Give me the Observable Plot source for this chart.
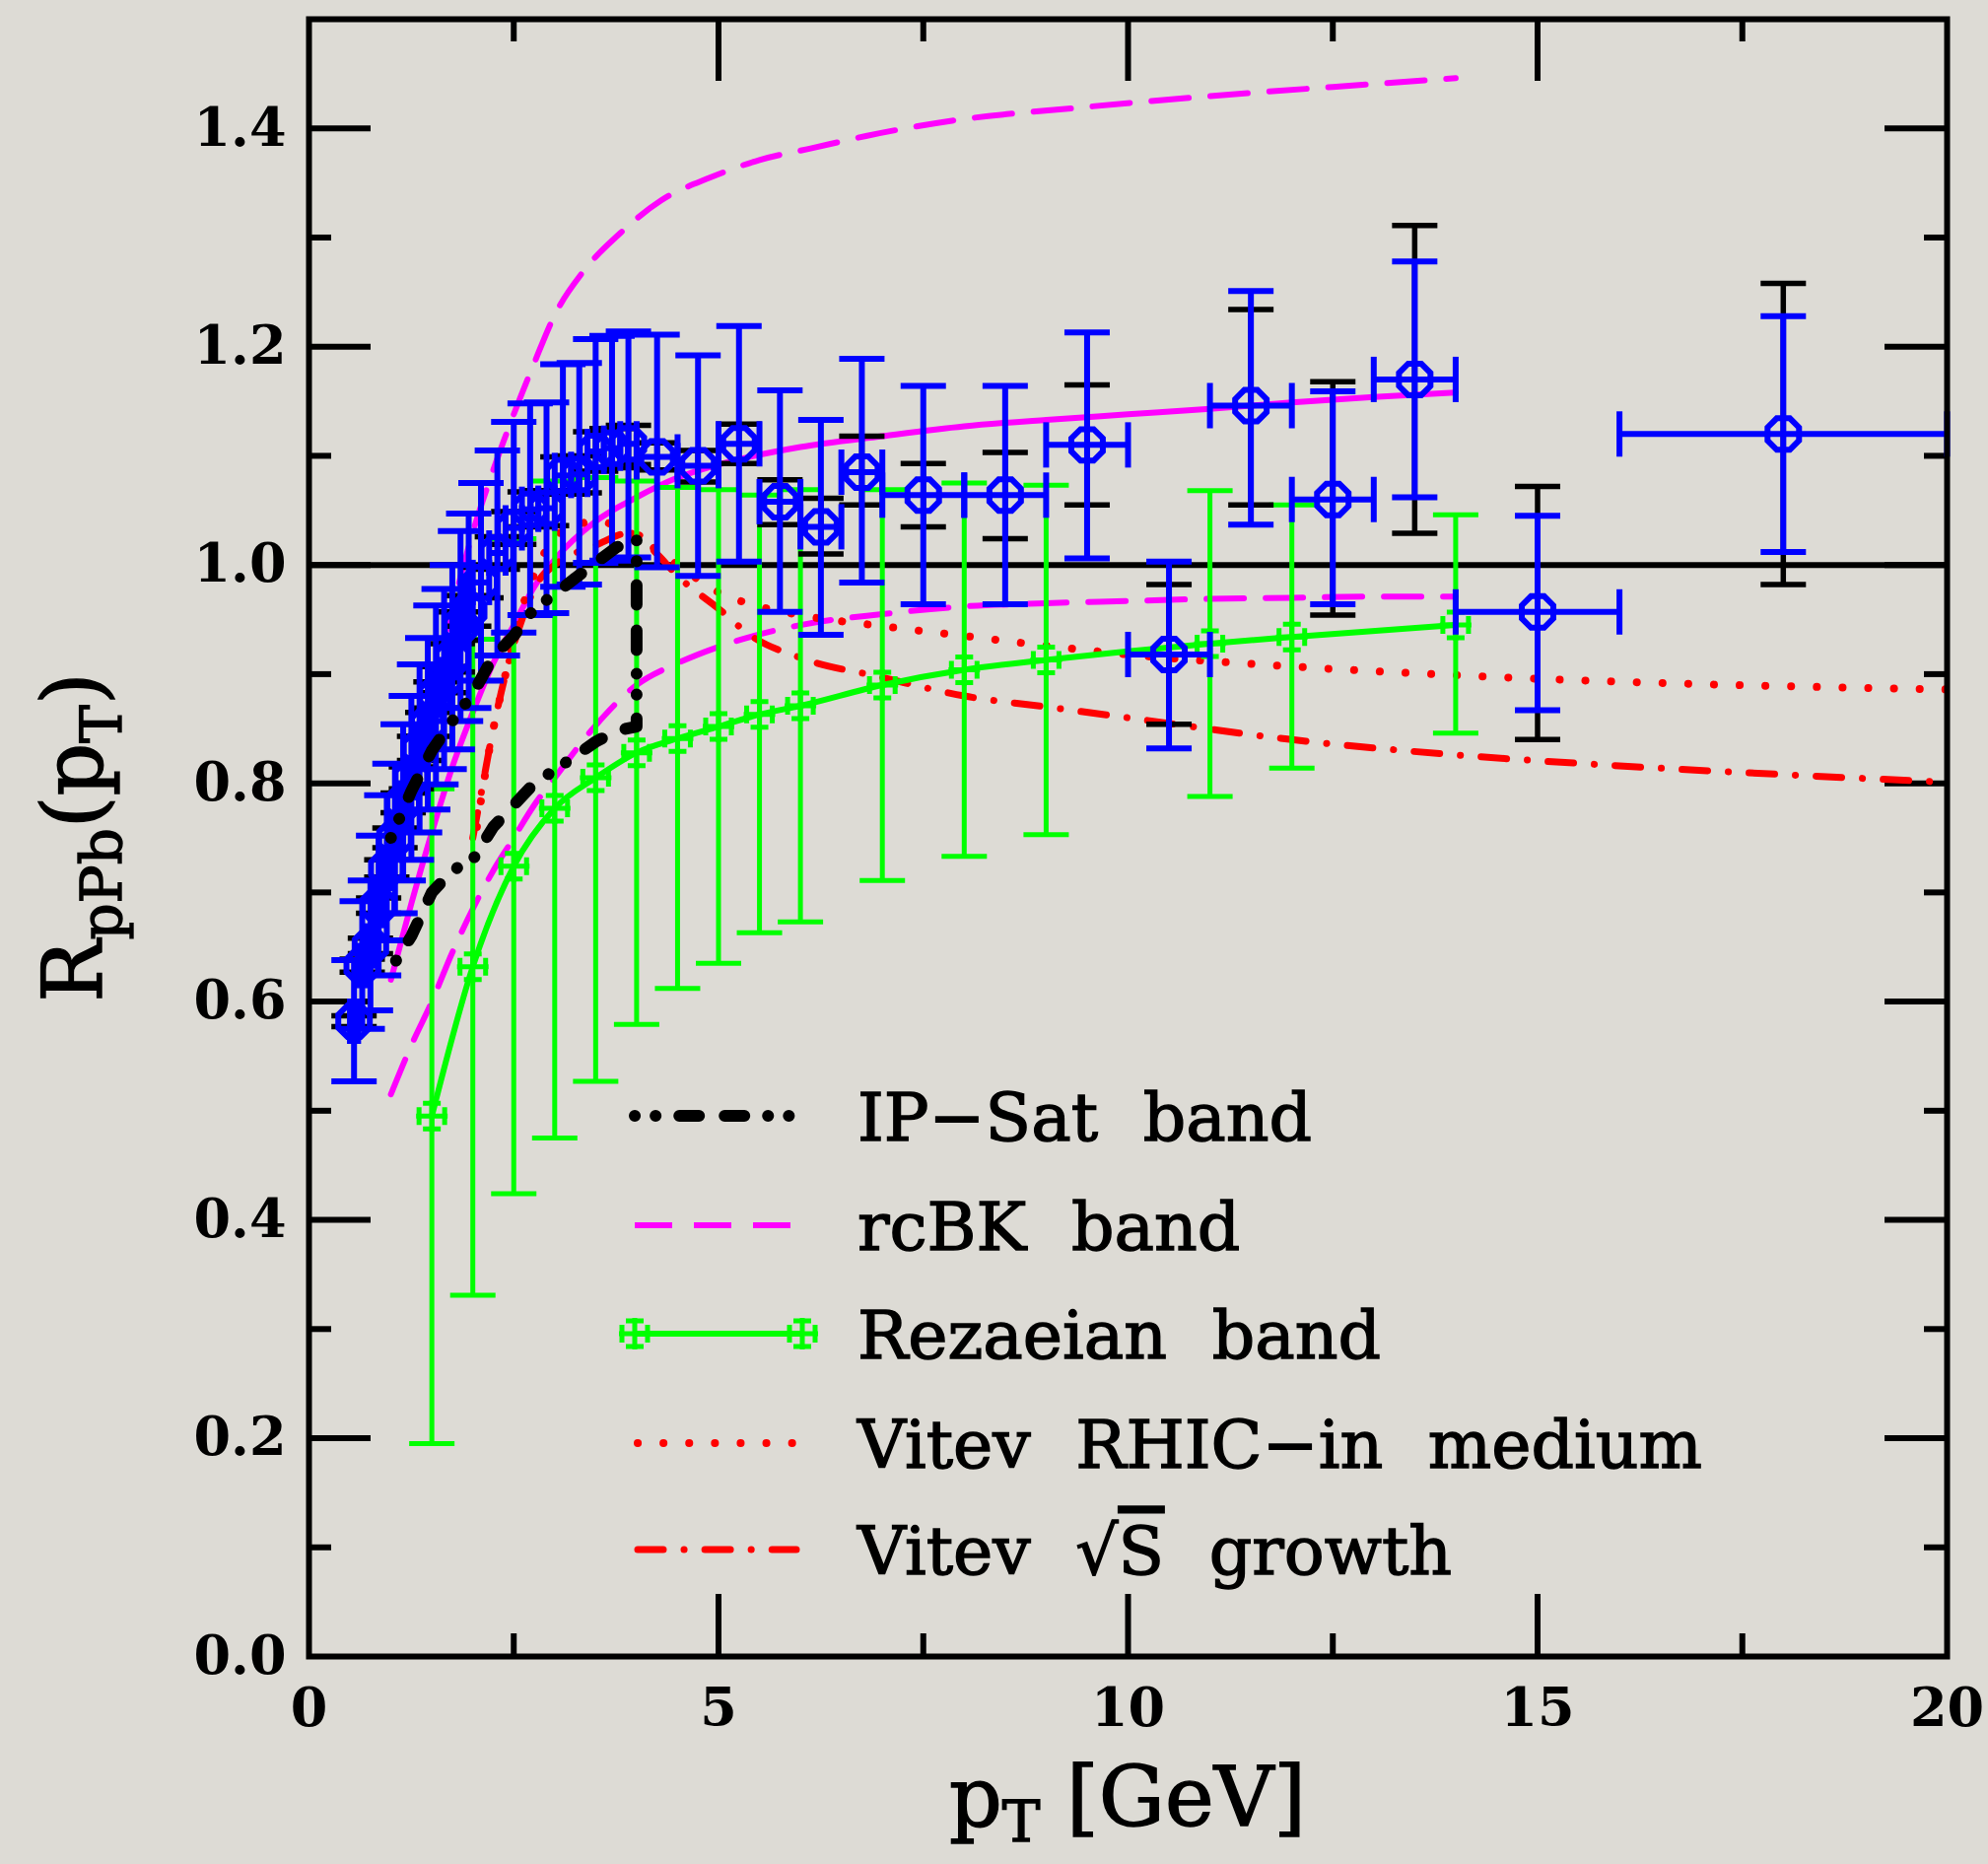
<!DOCTYPE html>
<html>
<head>
<meta charset="utf-8">
<script src="https://cdn.jsdelivr.net/npm/d3@7"></script>
<script src="https://cdn.jsdelivr.net/npm/@observablehq/plot@0.6"></script>
<style>
  html, body { margin: 0; padding: 0; background: #dddbd5; }
  #chart { width: 2017px; height: 1891px; overflow: hidden; }
</style>
</head>
<body>
<div id="chart"></div>
<script>
// ---------------- DATA ----------------
// ALICE p-Pb charged particle R_pPb (blue points)
const alicePt    = [0.55,0.65,0.75,0.85,0.95,1.05,1.15,1.25,1.35,1.45,1.55,1.65,1.75,1.85,1.95,2.1,2.3,2.5,2.7,2.9,3.1,3.3,3.5,3.7,3.9,4.25,4.75,5.25,5.75,6.25,6.75,7.5,8.5,9.5,10.5,11.5,12.5,13.5,15,18];
const aliceR     = [0.582,0.633,0.651,0.688,0.722,0.750,0.782,0.805,0.832,0.854,0.881,0.895,0.915,0.944,0.958,0.984,1.011,1.034,1.051,1.052,1.082,1.083,1.104,1.107,1.111,1.099,1.091,1.111,1.058,1.035,1.085,1.064,1.064,1.110,0.918,1.146,1.060,1.170,0.957,1.120];
const aliceStatLo= [0.527,0.575,0.592,0.624,0.656,0.681,0.711,0.730,0.755,0.776,0.799,0.813,0.831,0.857,0.869,0.894,0.917,0.938,0.954,0.956,0.980,0.982,1.002,1.004,1.007,0.998,0.990,1.003,0.957,0.936,0.984,0.964,0.964,1.006,0.832,1.037,0.964,1.062,0.867,1.012];
const aliceStatHi= [0.638,0.692,0.711,0.752,0.789,0.818,0.854,0.880,0.909,0.933,0.963,0.978,1.000,1.031,1.047,1.075,1.105,1.131,1.148,1.149,1.184,1.185,1.207,1.210,1.214,1.211,1.192,1.219,1.160,1.133,1.189,1.164,1.164,1.213,1.003,1.251,1.159,1.278,1.045,1.228];
const aliceSysLo = [0.577,0.627,0.644,0.681,0.714,0.741,0.773,0.795,0.821,0.843,0.869,0.883,0.902,0.931,0.944,0.970,0.996,1.019,1.035,1.036,1.065,1.066,1.086,1.089,1.092,1.087,1.076,1.093,1.037,1.010,1.055,1.035,1.024,1.055,0.854,1.055,0.954,1.029,0.840,0.982];
const aliceSysHi = [0.587,0.639,0.658,0.695,0.730,0.759,0.791,0.815,0.843,0.865,0.893,0.907,0.928,0.957,0.972,0.998,1.026,1.049,1.067,1.068,1.099,1.100,1.122,1.125,1.128,1.112,1.105,1.129,1.078,1.061,1.118,1.093,1.103,1.165,0.982,1.234,1.168,1.311,1.072,1.258];
const aliceBinLo = [0.5,0.6,0.7,0.8,0.9,1.0,1.1,1.2,1.3,1.4,1.5,1.6,1.7,1.8,1.9,2.0,2.2,2.4,2.6,2.8,3.0,3.2,3.4,3.6,3.8,4.0,4.5,5.0,5.5,6.0,6.5,7,8,9,10,11,12,13,14,16];
const aliceBinHi = [0.6,0.7,0.8,0.9,1.0,1.1,1.2,1.3,1.4,1.5,1.6,1.7,1.8,1.9,2.0,2.2,2.4,2.6,2.8,3.0,3.2,3.4,3.6,3.8,4.0,4.5,5.0,5.5,6.0,6.5,7.0,8,9,10,11,12,13,14,16,20];

// Rezaeian band (green)
const rezPt = [1.5,2,2.5,3,3.5,4,4.5,5,5.5,6,7,8,9,11,12,14];
const rezR  = [0.495,0.632,0.724,0.777,0.805,0.828,0.841,0.852,0.863,0.871,0.890,0.904,0.913,0.928,0.934,0.945];
const rezLo = [0.195,0.331,0.424,0.475,0.527,0.579,0.612,0.635,0.663,0.673,0.711,0.733,0.753,0.788,0.814,0.846];
const rezHi = [0.795,0.932,1.024,1.077,1.080,1.077,1.071,1.069,1.064,1.069,1.069,1.075,1.073,1.068,1.055,1.046];

// rcBK band (magenta): upper dashed, central solid, lower dashed
const rcbkUpPt  = [1.0,1.25,1.5,1.75,2.0,2.25,2.5,2.75,3.0,3.35,3.8,4.3,4.9,5.5,6.15,6.8,7.85,9.4,10.9,12.5,14.0];
const rcbkUpper = [0.72,0.81,0.89,0.96,1.03,1.087,1.138,1.185,1.229,1.269,1.304,1.334,1.355,1.371,1.382,1.393,1.407,1.419,1.429,1.438,1.446];
const rcbkPt    = [1.0,1.25,1.5,1.75,2.0,2.25,2.5,2.75,3.0,3.5,4.0,4.5,5.0,6.0,7.0,8.0,9.0,10.0,11.0,12.0,13.0,14.0];
const rcbkMid   = [0.62,0.69,0.755,0.815,0.865,0.91,0.945,0.98,1.005,1.04,1.062,1.08,1.092,1.108,1.118,1.127,1.133,1.138,1.143,1.149,1.154,1.158];
const rcbkLower = [0.515,0.56,0.60,0.645,0.685,0.72,0.75,0.78,0.805,0.853,0.89,0.91,0.925,0.945,0.955,0.962,0.965,0.967,0.969,0.970,0.971,0.971];

// IP-Sat band (black dash-dot-dot)
const ipsatPt    = [1.0,1.25,1.5,1.75,2.0,2.25,2.5,2.75,3.0,3.25,3.5,3.75,4.0];
const ipsatUpper = [0.75,0.793,0.83,0.857,0.882,0.916,0.935,0.96,0.973,0.988,1.002,1.016,1.025];
const ipsatLower = [0.63,0.66,0.70,0.72,0.73,0.76,0.78,0.80,0.812,0.825,0.838,0.848,0.852];

// Vitev RHIC-in medium (red dotted)
const vitevMedPt = [2.05,2.2,2.4,2.6,2.8,3.0,3.25,3.5,3.75,4.0,4.5,5.0,5.5,6.0,7.0,8.0,9.0,10,12,14,16,18,20];
const vitevMed   = [0.76,0.83,0.90,0.96,1.0,1.025,1.036,1.04,1.036,1.026,1.0,0.975,0.962,0.954,0.944,0.935,0.926,0.918,0.907,0.899,0.893,0.889,0.886];

// Vitev sqrt(S) growth (red dash-dot)
const vitevSPt = [2.0,2.1,2.25,2.4,2.6,2.8,3.0,3.5,3.95,4.25,4.5,5.0,5.4,6.0,7.0,8.0,9.0,10,12,14,16,18,20];
const vitevS   = [0.75,0.79,0.85,0.90,0.95,0.985,1.0,1.018,1.03,1.01,0.99,0.96,0.935,0.915,0.897,0.88,0.87,0.86,0.84,0.826,0.816,0.808,0.801];

// Axes
const xMajorTicks = [5, 10, 15];
const xMinorTicks = [2.5, 7.5, 12.5, 17.5];
const xTickLabels = [0, 5, 10, 15, 20];
const yMajorTicks = [0.2, 0.4, 0.6, 0.8, 1.0, 1.2, 1.4];
const yMinorTicks = [0.1, 0.3, 0.5, 0.7, 0.9, 1.1, 1.3];
const yTickLabels = [0, 0.2, 0.4, 0.6, 0.8, 1.0, 1.2, 1.4];
const legendLabels = ["IP\u2212Sat band", "rcBK band", "Rezaeian band", "Vitev RHIC\u2212in medium", "Vitev \u221AS growth"];

// ---------------- BUILD ----------------
const W = 2017, H = 1891;
const mL = 313, mR = 42, mT = 19, mB = 211;
const fW = W - mL - mR, fH = H - mT - mB;
const BLUE = "#0000ff", GREEN = "#00ff00", MAG = "#ff00ff", RED = "#ff0000";
const FONT = "DejaVu Serif";
const MAJ = 63, MIN = 23;
const LW = 6;

const alice = alicePt.map((pt, i) => ({pt, r: aliceR[i], statLo: aliceStatLo[i], statHi: aliceStatHi[i],
  sysLo: aliceSysLo[i], sysHi: aliceSysHi[i], xlo: aliceBinLo[i], xhi: aliceBinHi[i]}));
const rez = rezPt.map((pt, i) => ({pt, r: rezR[i], lo: rezLo[i], hi: rezHi[i]}));
const rcbkUp = rcbkUpPt.map((pt, i) => ({pt, r: rcbkUpper[i]}));
const rcbk = rcbkPt.map((pt, i) => ({pt, mid: rcbkMid[i], low: rcbkLower[i]}));
const ipsat = ipsatPt.map((pt, i) => ({pt, r: ipsatUpper[i]}))
  .concat(ipsatPt.map((pt, i) => ({pt, r: ipsatLower[i]})).reverse());
const vMed = vitevMedPt.map((pt, i) => ({pt, r: vitevMed[i]}));
const vS = vitevSPt.map((pt, i) => ({pt, r: vitevS[i]}));

// custom symbols (pixel shapes)
const hcap = {draw(c) { c.moveTo(-23, 0); c.lineTo(23, 0); }};
const vcap = {draw(c) { c.moveTo(0, -23); c.lineTo(0, 23); }};
const octagon = {draw(c) {
  const R = 17.3;
  for (let k = 0; k < 8; ++k) {
    const a = Math.PI / 8 + k * Math.PI / 4;
    if (k === 0) c.moveTo(R * Math.cos(a), R * Math.sin(a)); else c.lineTo(R * Math.cos(a), R * Math.sin(a));
  }
  c.closePath();
}};
const gmark = {draw(c) {
  c.moveTo(-16, 0); c.lineTo(16, 0);
  c.moveTo(0, -16); c.lineTo(0, 16);
  c.moveTo(-13, -9); c.lineTo(-13, 9);
  c.moveTo(13, -9); c.lineTo(13, 9);
  c.moveTo(-9, -13); c.lineTo(9, -13);
  c.moveTo(-9, 13); c.lineTo(9, 13);
}};

const IPDASH = "0.1,21,0.1,24,20,26,20,24";
const MAGDASH = "38,22";
const DOTS = "0.1,26";
const DASHDOT = "26,21,0.1,21";

const fmt = d3.format(".1f");

const chart = Plot.plot({
  width: W, height: H,
  marginLeft: mL, marginRight: mR, marginTop: mT, marginBottom: mB,
  style: {background: "transparent", overflow: "visible"},
  x: {domain: [0, 20], axis: null},
  y: {domain: [0, 1.5], axis: null},
  marks: [
    // reference line
    Plot.ruleY([1], {stroke: "black", strokeWidth: LW}),
    // ticks (inward, all four sides)
    Plot.ruleX(xMajorTicks, {stroke: "black", strokeWidth: LW, insetTop: fH - MAJ}),
    Plot.ruleX(xMajorTicks, {stroke: "black", strokeWidth: LW, insetBottom: fH - MAJ}),
    Plot.ruleX(xMinorTicks, {stroke: "black", strokeWidth: LW, insetTop: fH - MIN}),
    Plot.ruleX(xMinorTicks, {stroke: "black", strokeWidth: LW, insetBottom: fH - MIN}),
    Plot.ruleY(yMajorTicks, {stroke: "black", strokeWidth: LW, insetRight: fW - MAJ}),
    Plot.ruleY(yMajorTicks, {stroke: "black", strokeWidth: LW, insetLeft: fW - MAJ}),
    Plot.ruleY(yMinorTicks, {stroke: "black", strokeWidth: LW, insetRight: fW - MIN}),
    Plot.ruleY(yMinorTicks, {stroke: "black", strokeWidth: LW, insetLeft: fW - MIN}),
    // rcBK band
    Plot.line(rcbkUp, {x: "pt", y: "r", stroke: MAG, strokeWidth: 6, strokeDasharray: MAGDASH, curve: "monotone-x"}),
    Plot.line(rcbk, {x: "pt", y: "low", stroke: MAG, strokeWidth: 6, strokeDasharray: MAGDASH, curve: "monotone-x"}),
    Plot.line(rcbk, {x: "pt", y: "mid", stroke: MAG, strokeWidth: 6, curve: "monotone-x"}),
    // Vitev
    Plot.line(vMed, {x: "pt", y: "r", stroke: RED, strokeWidth: 8, strokeDasharray: DOTS, strokeLinecap: "round", curve: "monotone-x"}),
    Plot.line(vS, {x: "pt", y: "r", stroke: RED, strokeWidth: 7, strokeDasharray: DASHDOT, strokeLinecap: "round", curve: "monotone-x"}),
    // Rezaeian band
    Plot.ruleX(rez, {x: "pt", y1: "lo", y2: "hi", stroke: GREEN, strokeWidth: 5}),
    Plot.dot(rez, {x: "pt", y: "lo", symbol: hcap, fill: "none", stroke: GREEN, strokeWidth: 5}),
    Plot.dot(rez, {x: "pt", y: "hi", symbol: hcap, fill: "none", stroke: GREEN, strokeWidth: 5}),
    Plot.line(rez, {x: "pt", y: "r", stroke: GREEN, strokeWidth: 6, curve: "monotone-x"}),
    Plot.dot(rez, {x: "pt", y: "r", symbol: gmark, fill: "none", stroke: GREEN, strokeWidth: 5}),
    // ALICE systematic (black)
    Plot.ruleX(alice, {x: "pt", y1: "sysLo", y2: "sysHi", stroke: "black", strokeWidth: 5.5}),
    Plot.dot(alice, {x: "pt", y: "sysLo", symbol: hcap, fill: "none", stroke: "black", strokeWidth: 5.5}),
    Plot.dot(alice, {x: "pt", y: "sysHi", symbol: hcap, fill: "none", stroke: "black", strokeWidth: 5.5}),
    // ALICE statistical (blue)
    Plot.ruleX(alice, {x: "pt", y1: "statLo", y2: "statHi", stroke: BLUE, strokeWidth: LW}),
    Plot.dot(alice, {x: "pt", y: "statLo", symbol: hcap, fill: "none", stroke: BLUE, strokeWidth: LW}),
    Plot.dot(alice, {x: "pt", y: "statHi", symbol: hcap, fill: "none", stroke: BLUE, strokeWidth: LW}),
    Plot.ruleY(alice, {y: "r", x1: "xlo", x2: "xhi", stroke: BLUE, strokeWidth: LW}),
    Plot.dot(alice, {x: "xlo", y: "r", symbol: vcap, fill: "none", stroke: BLUE, strokeWidth: LW}),
    Plot.dot(alice, {x: "xhi", y: "r", symbol: vcap, fill: "none", stroke: BLUE, strokeWidth: LW}),
    Plot.dot(alice, {x: "pt", y: "r", symbol: octagon, fill: "none", stroke: BLUE, strokeWidth: LW}),
    // IP-Sat band
    Plot.line(ipsat, {x: "pt", y: "r", stroke: "black", strokeWidth: 12, strokeDasharray: IPDASH,
      strokeLinecap: "round", strokeLinejoin: "round", curve: "linear"}),
    // frame
    Plot.frame({stroke: "black", strokeWidth: LW}),
    // tick labels
    Plot.text(yTickLabels, {y: d => d, text: d => fmt(d), frameAnchor: "left", textAnchor: "end", dx: -23,
      fontSize: 54, fontWeight: "bold", fontFamily: FONT, fill: "black"}),
    Plot.text(xTickLabels, {x: d => d, text: d => String(d), frameAnchor: "bottom", lineAnchor: "middle", dy: 53,
      fontSize: 54, fontWeight: "bold", fontFamily: FONT, fill: "black"})
  ]
});

document.getElementById("chart").appendChild(chart);

// ---------------- TITLES & LEGEND ----------------
const svg = d3.select(chart);
const cx = mL + fW / 2;

const xt = svg.append("text").attr("x", cx).attr("y", 1852).attr("text-anchor", "middle")
  .attr("font-family", FONT).attr("font-size", 84).attr("fill", "black")
  .attr("stroke", "black").attr("stroke-width", 1.4);
xt.append("tspan").text("p");
xt.append("tspan").attr("dy", 16).attr("font-size", 58).text("T");
xt.append("tspan").attr("dy", -16).text(" [GeV]");

const yt = svg.append("text").attr("transform", `translate(103,${mT + fH / 2}) rotate(-90)`)
  .attr("text-anchor", "middle").attr("font-family", FONT).attr("font-size", 84).attr("fill", "black")
  .attr("stroke", "black").attr("stroke-width", 1.4);
yt.append("tspan").text("R");
yt.append("tspan").attr("dy", 20).attr("font-size", 58).text("pPb");
yt.append("tspan").attr("dy", -20).text("(p");
yt.append("tspan").attr("dy", 20).attr("font-size", 58).text("T");
yt.append("tspan").attr("dy", -20).text(")");

const rowY = [1132, 1243, 1353, 1464, 1572];
const sx1 = 644, sx2 = 814, tx = 870;
const lg = svg.append("g");
// swatches
lg.append("line").attr("x1", sx1).attr("x2", sx2).attr("y1", rowY[0]).attr("y2", rowY[0])
  .attr("stroke", "black").attr("stroke-width", 12).attr("stroke-linecap", "round").attr("stroke-dasharray", IPDASH);
lg.append("line").attr("x1", sx1).attr("x2", sx2).attr("y1", rowY[1]).attr("y2", rowY[1])
  .attr("stroke", MAG).attr("stroke-width", 6).attr("stroke-dasharray", MAGDASH);
lg.append("line").attr("x1", sx1).attr("x2", sx2).attr("y1", rowY[2]).attr("y2", rowY[2])
  .attr("stroke", GREEN).attr("stroke-width", 6);
for (const px of [sx1, sx2]) {
  const p = d3.path(); gmark.draw(p);
  lg.append("path").attr("d", p.toString()).attr("transform", `translate(${px},${rowY[2]})`)
    .attr("fill", "none").attr("stroke", GREEN).attr("stroke-width", 5);
}
lg.append("line").attr("x1", sx1 + 3).attr("x2", sx2).attr("y1", rowY[3]).attr("y2", rowY[3])
  .attr("stroke", RED).attr("stroke-width", 8).attr("stroke-linecap", "round").attr("stroke-dasharray", DOTS);
lg.append("line").attr("x1", sx1 + 3).attr("x2", sx2 - 6).attr("y1", rowY[4]).attr("y2", rowY[4])
  .attr("stroke", RED).attr("stroke-width", 7).attr("stroke-linecap", "round").attr("stroke-dasharray", DASHDOT);
// labels
legendLabels.forEach((lab, i) => {
  const t = lg.append("text").attr("x", tx).attr("y", rowY[i] + 25).attr("text-anchor", "start")
    .attr("font-family", FONT).attr("font-size", 68).attr("word-spacing", 24).attr("fill", "black")
    .attr("stroke", "black").attr("stroke-width", 1.4);
  if (lab.includes("\u221A")) {
    const k = lab.indexOf("\u221A");
    t.append("tspan").text(lab.slice(0, k + 1));
    t.append("tspan").style("text-decoration", "overline").text(lab.slice(k + 1, k + 2));
    t.append("tspan").text(lab.slice(k + 2));
  } else {
    t.text(lab);
  }
});
</script>
</body>
</html>
